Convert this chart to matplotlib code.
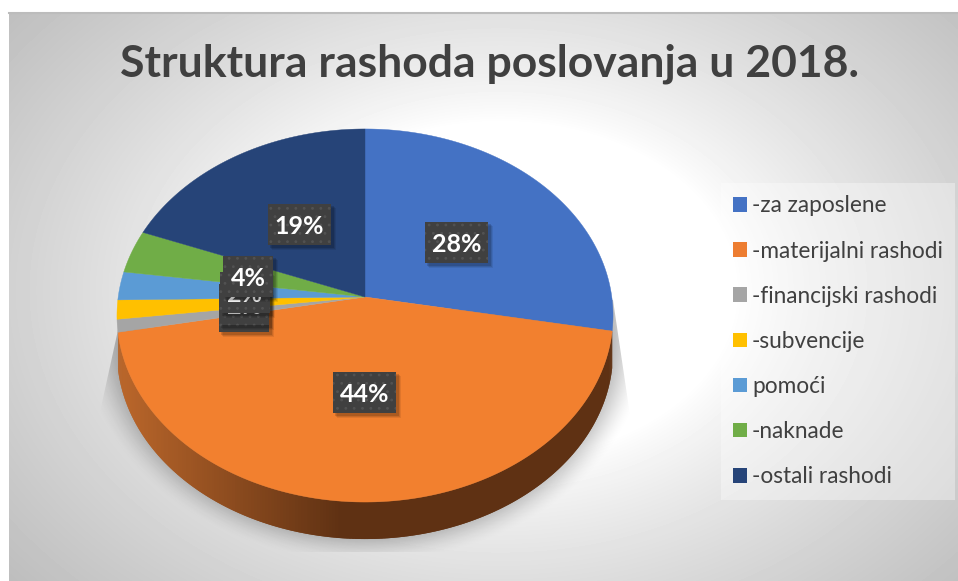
import numpy as np
import matplotlib
matplotlib.use("Agg")
import matplotlib.pyplot as plt
from matplotlib.patches import Patch, Polygon, Rectangle
from matplotlib.colors import to_rgb

plt.rcParams['font.family'] = ['Lato', 'DejaVu Sans']
plt.rcParams['hatch.linewidth'] = 0.8

# podaci
naslov = "Struktura rashoda poslovanja u 2018."
kategorije = ["-za zaposlene", "-materijalni rashodi", "-financijski rashodi",
              "-subvencije", "pomoći", "-naknade", "-ostali rashodi"]
vrijednosti = [27.9, 44.1, 1.1, 1.65, 2.45, 3.7, 19.1]
boje = ["#4472C4", "#F2802F", "#A5A5A5", "#FFC000", "#5B9BD5", "#70AD47", "#264478"]
boje_legenda = ["#4472C4", "#ED7D31", "#A5A5A5", "#FFC000", "#5B9BD5", "#70AD47", "#264478"]

# sredista natpisa u pikselima (redom kao kategorije)
natpis_x = [456.5, 364.5, 244, 244.5, 245, 248, 299.5]
natpis_y = [242.5, 392.5, 311.5, 304.5, 292.5, 276, 224.5]

W, H = 958, 581
cx, cy = 365, 297        # vrh pite
ax_r, ay_r = 246.8, 184.7
k = 0.0992               # perspektiva
dubina = 37

fig = plt.figure(figsize=(W / 100, H / 100), dpi=100, facecolor="white")
ax = fig.add_axes([0, 0, 1, 1])
ax.axis("off")


def rub(t):
    # t = udio kruga od vrha, u smjeru kazaljke
    a = np.pi / 2 - 2 * np.pi * np.asarray(t)
    d = 1 + k * np.sin(a)
    return cx + ax_r * np.cos(a) / d, cy - ay_r * np.sin(a) / d


# pozadina - radijalni gradijent
yy, xx = np.mgrid[12:H, 9:W]
r = np.hypot((xx - 500) / 560, (yy - 290) / 400)
siva = 255 - 68 * np.clip((r - 0.42) / 0.75, 0, 1) ** 0.8
ax.imshow(siva, extent=(9, W, H, 12), cmap="gray", vmin=0, vmax=255, zorder=0, aspect="auto")
ax.plot([9, W], [12.5, 12.5], color="#bcbcbc", lw=1.5, zorder=1)

# sjena ispod pite
yy, xx = np.mgrid[300:553, 95:636]
rs = np.hypot((xx - 365) / 285, (yy - 335) / 228)
al = np.clip((1.0 - rs) / 0.2, 0, 1)
al = al * al * (3 - 2 * al) * 0.36
rgba = np.zeros(xx.shape + (4,))
rgba[..., 3] = al
sj = ax.imshow(rgba, extent=(95, 636, 553, 300), zorder=2, aspect="auto")
sj.set_clip_path(Polygon([(118, 330), (100, 412), (100, 552), (630, 552), (630, 415), (613, 300)],
                         transform=ax.transData))

ax.set_xlim(0, W)
ax.set_ylim(H, 0)

# bocna strana
granice = np.cumsum([0] + vrijednosti) / sum(vrijednosti)
tt = np.linspace(granice[1], granice[2], 240)
xr, yr = rub(tt)
svijetla = np.array(to_rgb("#B8652A"))
tamna = np.array(to_rgb("#5F3113"))
for i in range(len(tt) - 1, 0, -1):
    j = max(i - 2, 0)
    u = np.clip((xr[i] - 125) / 215, 0, 1)
    c = svijetla + (tamna - svijetla) * u
    ax.fill([xr[i], xr[j], xr[j], xr[i]],
            [yr[i], yr[j], yr[j] + dubina, yr[i] + dubina],
            color=c, lw=0, zorder=3)

# gornja ploha
for i in range(len(vrijednosti)):
    t = np.linspace(granice[i], granice[i + 1], 200)
    x, y = rub(t)
    ax.fill(np.r_[cx, x], np.r_[cy, y], color=boje[i], lw=0.3, zorder=4)

# natpisi s postocima
for i in range(len(vrijednosti)):
    tekst = "%d%%" % round(vrijednosti[i] / sum(vrijednosti) * 100)
    sirina = 63 if len(tekst) == 3 else 50
    x0 = natpis_x[i] - sirina / 2
    y0 = natpis_y[i] - 20.5
    z = 5 + i * 0.01
    # meka sjena okvira
    for pomak, prozirnost in [(5, 0.08), (4, 0.1), (3, 0.14)]:
        ax.add_patch(Rectangle((x0 + pomak - 1, y0 + pomak - 1), sirina + 1, 41 + 1,
                               facecolor="black", alpha=prozirnost, lw=0, zorder=z))
    ax.add_patch(Rectangle((x0, y0), sirina, 41, facecolor="#404040", edgecolor="#525252",
                           hatch="..", lw=0, zorder=z + 0.001))
    ax.text(natpis_x[i], natpis_y[i] + 2, tekst, color="white", fontsize=18, fontweight="bold",
            ha="center", va="center", zorder=z + 0.002)

# naslov
ax.text(490, 64, naslov, color="#404040", fontsize=32, fontweight="bold", ha="center", va="center", zorder=6)

# legenda
rucke = [Patch(facecolor=c, edgecolor="none") for c in boje_legenda]
leg = ax.legend(rucke, kategorije, loc="upper left", bbox_to_anchor=(721 / W, 1 - 183 / H),
                fontsize=16.3, frameon=True, facecolor="white", framealpha=0.35, edgecolor="none",
                fancybox=False, borderaxespad=0, borderpad=0.55, handlelength=0.62, handleheight=0.62,
                handletextpad=0.2, labelspacing=1.066, labelcolor="#404040")
leg.set_zorder(6)

fig.savefig("out.png", dpi=100, facecolor="white")
